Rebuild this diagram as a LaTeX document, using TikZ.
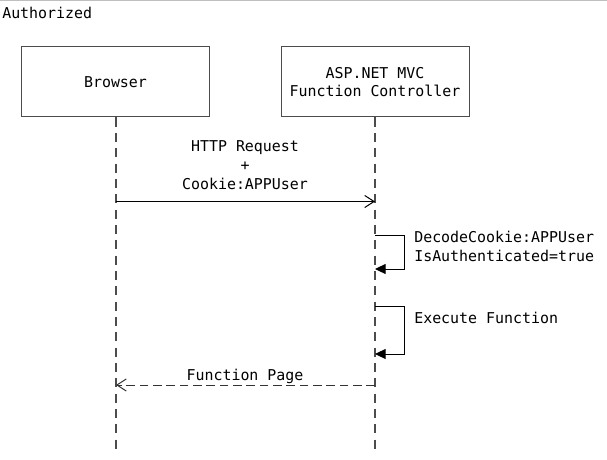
\documentclass[tikz,border=0pt]{standalone}
\usepackage{fontspec}
\setmonofont{DejaVu Sans Mono}
\usetikzlibrary{arrows.meta}
\begin{document}
\begin{tikzpicture}[x=0.75pt,y=-0.75pt,
  every node/.style={font=\ttfamily\fontsize{11.2pt}{14pt}\selectfont, text=black},
  actor/.style={draw=black!70, line width=0.75pt, minimum width=141pt, minimum height=52.5pt, align=center, inner sep=0pt},
  lifeline/.style={draw=black!70, line width=0.9pt, dash pattern=on 6.75pt off 4.75pt},
  msg/.style={draw=black, line width=0.75pt, -{Straight Barb[length=7pt,width=9pt]}},
  reply/.style={draw=black!80, line width=0.75pt, dash pattern=on 6.5pt off 3.5pt, -{Straight Barb[length=7pt,width=9pt]}},
  selfmsg/.style={draw=black, line width=0.75pt, -{Triangle[length=8pt,width=7.5pt]}},
  lbl/.style={inner sep=0pt, align=center},
  lbll/.style={inner sep=0pt, align=left, anchor=west}
]
\useasboundingbox (0,0) rectangle (607,460);
\fill[white] (0,0) rectangle (607,460);
\draw[black!25, line width=0.75pt] (0,0.5) -- (607,0.5);

\node[lbll] (title) at (2,13) {Authorized};

\node[actor] (browser) at (115.5,82) {Browser};
\node[actor] (ctrl) at (375,82) {ASP.NET MVC\\Function Controller};

\coordinate (bend) at (116,450);
\coordinate (cend) at (375,450);
\draw[lifeline] (browser.south -| bend) -- (bend);
\draw[lifeline] (ctrl.south -| cend) -- (cend);

% HTTP request
\coordinate (r1) at (116,201.5);
\coordinate (r2) at (375,201.5);
\draw[msg] (r1) -- (r2);
\node[lbl] (reqlbl) at (245,165) {HTTP Request\\+\\Cookie:APPUser};

% self message 1
\coordinate (s1a) at (375,235.5);
\coordinate (s1b) at (404,235.5);
\coordinate (s1c) at (404,269);
\coordinate (s1d) at (375,269);
\draw[selfmsg] (s1a) -- (s1b) -- (s1c) -- (s1d);
\node[lbll] (s1lbl) at (414,246.5) {DecodeCookie:APPUser\\IsAuthenticated=true};

% self message 2
\coordinate (s2a) at (375,306);
\coordinate (s2b) at (404,306);
\coordinate (s2c) at (404,354);
\coordinate (s2d) at (375,354);
\draw[selfmsg] (s2a) -- (s2b) -- (s2c) -- (s2d);
\node[lbll] (s2lbl) at (414,318) {Execute Function};

% reply
\coordinate (p1) at (375,385);
\coordinate (p2) at (116,385);
\draw[reply] (p1) -- (p2);
\node[lbl] (replbl) at (245,376.5) {Function Page};
\end{tikzpicture}
\end{document}
